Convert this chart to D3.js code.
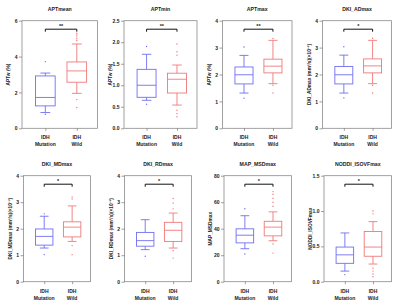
<!DOCTYPE html>
<html>
<head>
<meta charset="utf-8">
<script src="https://cdn.jsdelivr.net/npm/d3@7"></script>
<style>
  body { margin: 0; background: #fff; }
  text { font-family: "Liberation Sans", Arial, sans-serif; font-weight: bold; fill: #222; }
</style>
</head>
<body>
<script>
// data
var groups = ["IDH Mutation", "IDH Wild"];
var titles = ["APTmean", "APTmin", "APTmax", "DKI_ADmax", "DKI_MDmax", "DKI_RDmax", "MAP_MSDmax", "NODDI_ISOVFmax"];
var yLabels = ["APTw (%)", "APTw (%)", "APTw (%)",
  "DKI_ADmax (mm\u00B2/s)(\u00D710\u207B\u00B3)", "DKI_MDmax (mm\u00B2/s)(\u00D710\u207B\u00B3)",
  "DKI_RDmax (mm\u00B2/s)(\u00D710\u207B\u00B3)", "MAP_MSDmax", "NODDI_ISOVFmax"];
var yTicks = [
  [0, 2, 4, 6], [0, 0.5, 1, 1.5, 2, 2.5], [0, 1, 2, 3, 4], [0, 1, 2, 3, 4],
  [0, 1, 2, 3, 4], [0, 1, 2, 3, 4], [0, 20, 40, 60, 80], [0, 0.5, 1, 1.5]
];
var tickFormats = ["d", ".1f", "d", "d", "d", "d", "d", ".1f"];
var stars = ["**", "**", "**", "*", "*", "*", "*", "*"];

// [whisker low, q1, median, q3, whisker high]
var mutationStats = [
  [0.88, 1.25, 1.72, 2.92, 3.08],
  [0.65, 0.72, 1.0, 1.37, 1.72],
  [1.31, 1.65, 1.99, 2.28, 2.71],
  [1.31, 1.65, 1.99, 2.3, 2.72],
  [1.27, 1.38, 1.71, 1.99, 2.47],
  [1.21, 1.34, 1.55, 1.86, 2.34],
  [24.9, 29.3, 35.1, 39.9, 49.8],
  [0.15, 0.26, 0.38, 0.49, 0.69]
];
var wildStats = [
  [1.95, 2.57, 3.2, 3.7, 4.7],
  [0.54, 0.82, 1.14, 1.28, 1.47],
  [1.66, 2.06, 2.31, 2.57, 3.27],
  [1.66, 2.06, 2.32, 2.58, 3.27],
  [1.52, 1.69, 2.06, 2.26, 2.86],
  [1.27, 1.52, 1.94, 2.24, 2.59],
  [30.9, 34.6, 41.2, 45.6, 52.7],
  [0.25, 0.36, 0.49, 0.71, 0.85]
];
var mutationOutliers = [
  [3.72, 0.78], [1.9, 0.56], [3.02, 1.12], [3.03, 1.13],
  [2.56, 1.02], [0.96], [55.1, 20.9], [0.1]
];
var wildOutliers = [
  [5.3, 5.2, 5.1, 5.0, 4.9, 1.6, 1.16],
  [1.96, 1.78, 1.7, 0.42, 0.34, 0.27],
  [3.34, 1.6, 1.31], [3.35, 1.6, 1.31],
  [3.2, 3.12, 1.36, 1.02],
  [3.14, 2.97, 2.75, 1.17, 0.89],
  [68, 66, 63, 60, 57, 28.5, 21.6],
  [1.0, 0.96, 0.19, 0.15, 0.11, 0.07]
];

var colors = ["#6f6ff2", "#f07878"];

// panel frames [left, right, top, bottom]
var frames = [
  [22, 97.5, 20.7, 128.3], [124, 197, 20.7, 128.3], [222.5, 292, 20.7, 128.3], [322.5, 391.5, 20.7, 128.3],
  [23.5, 90.5, 175.7, 281.7], [124.5, 191.5, 175.7, 281.7], [224, 291.5, 175.7, 281.7], [324, 391.5, 175.7, 281.7]
];

var svg = d3.select("body").append("svg")
  .attr("width", 400)
  .attr("height", 306);

titles.forEach(function (title, i) {
  var f = frames[i];
  var w = f[1] - f[0];
  var g = svg.append("g");

  var y = d3.scaleLinear()
    .domain(d3.extent(yTicks[i]))
    .range([f[3], f[2]]);
  var x = d3.scalePoint()
    .domain(groups)
    .range([f[0], f[1]])
    .padding(0.7)
    .align(0.53);

  // frame
  g.append("rect")
    .attr("x", f[0]).attr("y", f[2])
    .attr("width", w).attr("height", f[3] - f[2])
    .attr("fill", "none").attr("stroke", "#8a8a8a").attr("stroke-width", 0.8);

  // y axis
  var yAxis = g.append("g")
    .attr("transform", "translate(" + f[0] + ",0)")
    .call(d3.axisLeft(y).tickValues(yTicks[i]).tickFormat(d3.format(tickFormats[i])).tickSize(3).tickPadding(1.5));
  yAxis.select(".domain").remove();
  yAxis.selectAll("line").attr("stroke", "#777").attr("stroke-width", 0.7);
  yAxis.selectAll("text").attr("font-size", 5).attr("font-family", null).attr("fill", "#222");

  // x axis
  var xAxis = g.append("g")
    .attr("transform", "translate(0," + f[3] + ")")
    .call(d3.axisBottom(x).tickSize(2.5).tickFormat(""));
  xAxis.select(".domain").remove();
  xAxis.selectAll("line").attr("stroke", "#777").attr("stroke-width", 0.7);

  groups.forEach(function (grp) {
    var parts = grp.split(" ");
    var t = g.append("text")
      .attr("x", x(grp)).attr("y", f[3] + 11)
      .attr("text-anchor", "middle").attr("font-size", 5);
    t.append("tspan").attr("x", x(grp)).text(parts[0]);
    t.append("tspan").attr("x", x(grp)).attr("dy", 7).text(parts[1]);
  });

  // title and y label
  g.append("text")
    .attr("x", (f[0] + f[1]) / 2).attr("y", f[2] - 10)
    .attr("text-anchor", "middle").attr("font-size", 5.2)
    .text(title);
  g.append("text")
    .attr("transform", "translate(" + (f[0] - 12) + "," + ((f[2] + f[3]) / 2) + ") rotate(-90)")
    .attr("text-anchor", "middle").attr("font-size", 4.8)
    .text(yLabels[i]);

  // boxes
  var bw = w * 0.26;
  [mutationStats[i], wildStats[i]].forEach(function (s, k) {
    var cx = x(groups[k]);
    var col = colors[k];
    var b = g.append("g").attr("stroke", col).attr("fill", "none").attr("stroke-width", 0.9);
    b.append("line").attr("x1", cx).attr("x2", cx).attr("y1", y(s[0])).attr("y2", y(s[1]));
    b.append("line").attr("x1", cx).attr("x2", cx).attr("y1", y(s[3])).attr("y2", y(s[4]));
    b.append("line").attr("x1", cx - bw / 4).attr("x2", cx + bw / 4).attr("y1", y(s[0])).attr("y2", y(s[0]));
    b.append("line").attr("x1", cx - bw / 4).attr("x2", cx + bw / 4).attr("y1", y(s[4])).attr("y2", y(s[4]));
    b.append("rect")
      .attr("x", cx - bw / 2).attr("y", y(s[3]))
      .attr("width", bw).attr("height", y(s[1]) - y(s[3]))
      .attr("fill", "#fff");
    b.append("line").attr("x1", cx - bw / 2).attr("x2", cx + bw / 2).attr("y1", y(s[2])).attr("y2", y(s[2]));

    var outs = k === 0 ? mutationOutliers[i] : wildOutliers[i];
    g.selectAll(null).data(outs).enter().append("circle")
      .attr("cx", cx).attr("cy", function (d) { return y(d); })
      .attr("r", 0.7).attr("fill", col);
  });

  // significance bracket
  var by = f[2] + 8.5;
  var x1 = x(groups[0]), x2 = x(groups[1]);
  g.append("path")
    .attr("d", "M" + x1 + "," + (by + 2.5) + "V" + by + "H" + x2 + "V" + (by + 2.5))
    .attr("fill", "none").attr("stroke", "#111").attr("stroke-width", 1);
  g.append("text")
    .attr("x", (x1 + x2) / 2).attr("y", by - 1.5)
    .attr("text-anchor", "middle").attr("font-size", 5.5)
    .text(stars[i]);
});
</script>
</body>
</html>
